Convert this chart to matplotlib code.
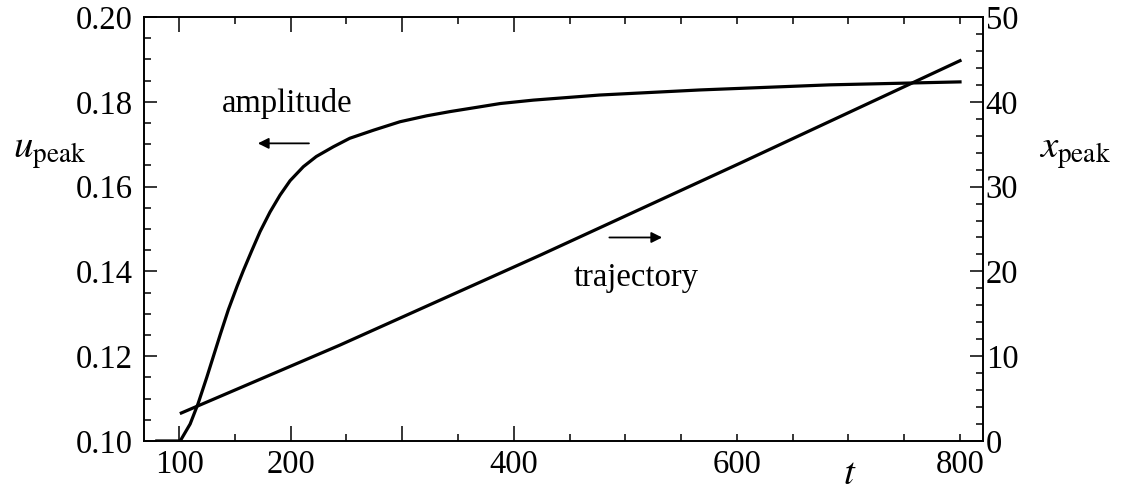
import matplotlib.pyplot as plt
from matplotlib.ticker import FixedLocator, FixedFormatter, MultipleLocator

plt.rcParams['font.family'] = 'Liberation Serif'
plt.rcParams['mathtext.fontset'] = 'stix'

# amplitude curve (left axis)
t_amp = [80, 101, 109.9, 117, 124.8, 137, 144.2, 152, 157.6, 165, 172.6, 181.5, 190.5,
         199.5, 211.4, 223, 238.3, 253, 274.2, 298, 322, 343, 366.8, 388, 417.6, 477,
         522, 567, 683, 800]
u_peak = [0.100, 0.100, 0.1040, 0.1088, 0.1150, 0.1252, 0.1310, 0.1365, 0.1402, 0.1448,
          0.1494, 0.1540, 0.1580, 0.1614, 0.1647, 0.1671, 0.1694, 0.1714, 0.1733, 0.1753,
          0.1767, 0.1777, 0.1787, 0.1796, 0.1804, 0.1816, 0.1822, 0.1828, 0.1840, 0.1847]

# trajectory (right axis)
t_traj = [102, 244, 423.5, 602.7, 800]
x_peak = [3.3, 11.3, 21.9, 32.75, 44.85]

xtick_major = [100, 200, 300, 400]
xtick_major_labels = ['100', '200', '', '400']
xtick_minor = [150, 250, 350, 450, 500, 550, 600, 650, 700, 750, 800]
xtick_minor_labels = ['', '', '', '', '', '', '600', '', '', '', '800']

fig = plt.figure(figsize=(11.22, 4.92), dpi=100)
ax = fig.add_axes([0.1283, 0.1037, 0.876 - 0.1283, 0.9654 - 0.1037])
ax2 = ax.twinx()

ax.plot(t_amp, u_peak, color='black', lw=2.3, solid_joinstyle='round')
ax2.plot(t_traj, x_peak, color='black', lw=2.3)

ax.set_xlim(68.5, 820.5)
ax.set_ylim(0.10, 0.20)
ax2.set_ylim(0, 50)

ax.xaxis.set_major_locator(FixedLocator(xtick_major))
ax.xaxis.set_major_formatter(FixedFormatter(xtick_major_labels))
ax.xaxis.set_minor_locator(FixedLocator(xtick_minor))
ax.xaxis.set_minor_formatter(FixedFormatter(xtick_minor_labels))
ax.yaxis.set_major_locator(MultipleLocator(0.02))
ax.yaxis.set_minor_locator(MultipleLocator(0.005))
ax.yaxis.set_major_formatter(plt.FuncFormatter(lambda v, p: f'{v:.2f}'))
ax2.yaxis.set_major_locator(MultipleLocator(10))
ax2.yaxis.set_minor_locator(MultipleLocator(2))

ax.tick_params(axis='x', which='both', direction='in', top=True, bottom=True,
               labelsize=23.5, pad=6, width=1.1)
ax.tick_params(axis='x', which='major', length=10.5)
ax.tick_params(axis='x', which='minor', length=5.2)
ax.tick_params(axis='y', which='both', direction='in', left=True, right=False,
               labelsize=23.5, pad=8, width=1.1)
ax.tick_params(axis='y', which='major', length=9.5)
ax.tick_params(axis='y', which='minor', length=5.2)
ax2.tick_params(axis='y', which='both', direction='in', labelsize=23.5, pad=2, width=1.1)
ax2.tick_params(axis='y', which='major', length=9.5)
ax2.tick_params(axis='y', which='minor', length=5.2)

for a in (ax, ax2):
    for s in a.spines.values():
        s.set_linewidth(1.2)

fig.text(0.044, 0.69, r'$u_{\mathrm{peak}}$', fontsize=28, ha='center', va='center')
fig.text(0.958, 0.69, r'$x_{\mathrm{peak}}$', fontsize=28, ha='center', va='center')
fig.text(0.757, 0.035, r'$t$', fontsize=28, ha='center', va='center')

ax.text(196.8, 0.1797, 'amplitude', fontsize=23.5, ha='center', va='center')
ax.annotate('', xy=(168.1, 0.1702), xytext=(218.9, 0.1702),
            arrowprops=dict(arrowstyle='-|>', lw=1.3, color='black', mutation_scale=16))
ax.text(509.5, 0.1384, 'trajectory', fontsize=23.5, ha='center', va='center')
ax.annotate('', xy=(535.5, 0.148), xytext=(483.2, 0.148),
            arrowprops=dict(arrowstyle='-|>', lw=1.3, color='black', mutation_scale=16))

fig.savefig('out.png', dpi=100)
